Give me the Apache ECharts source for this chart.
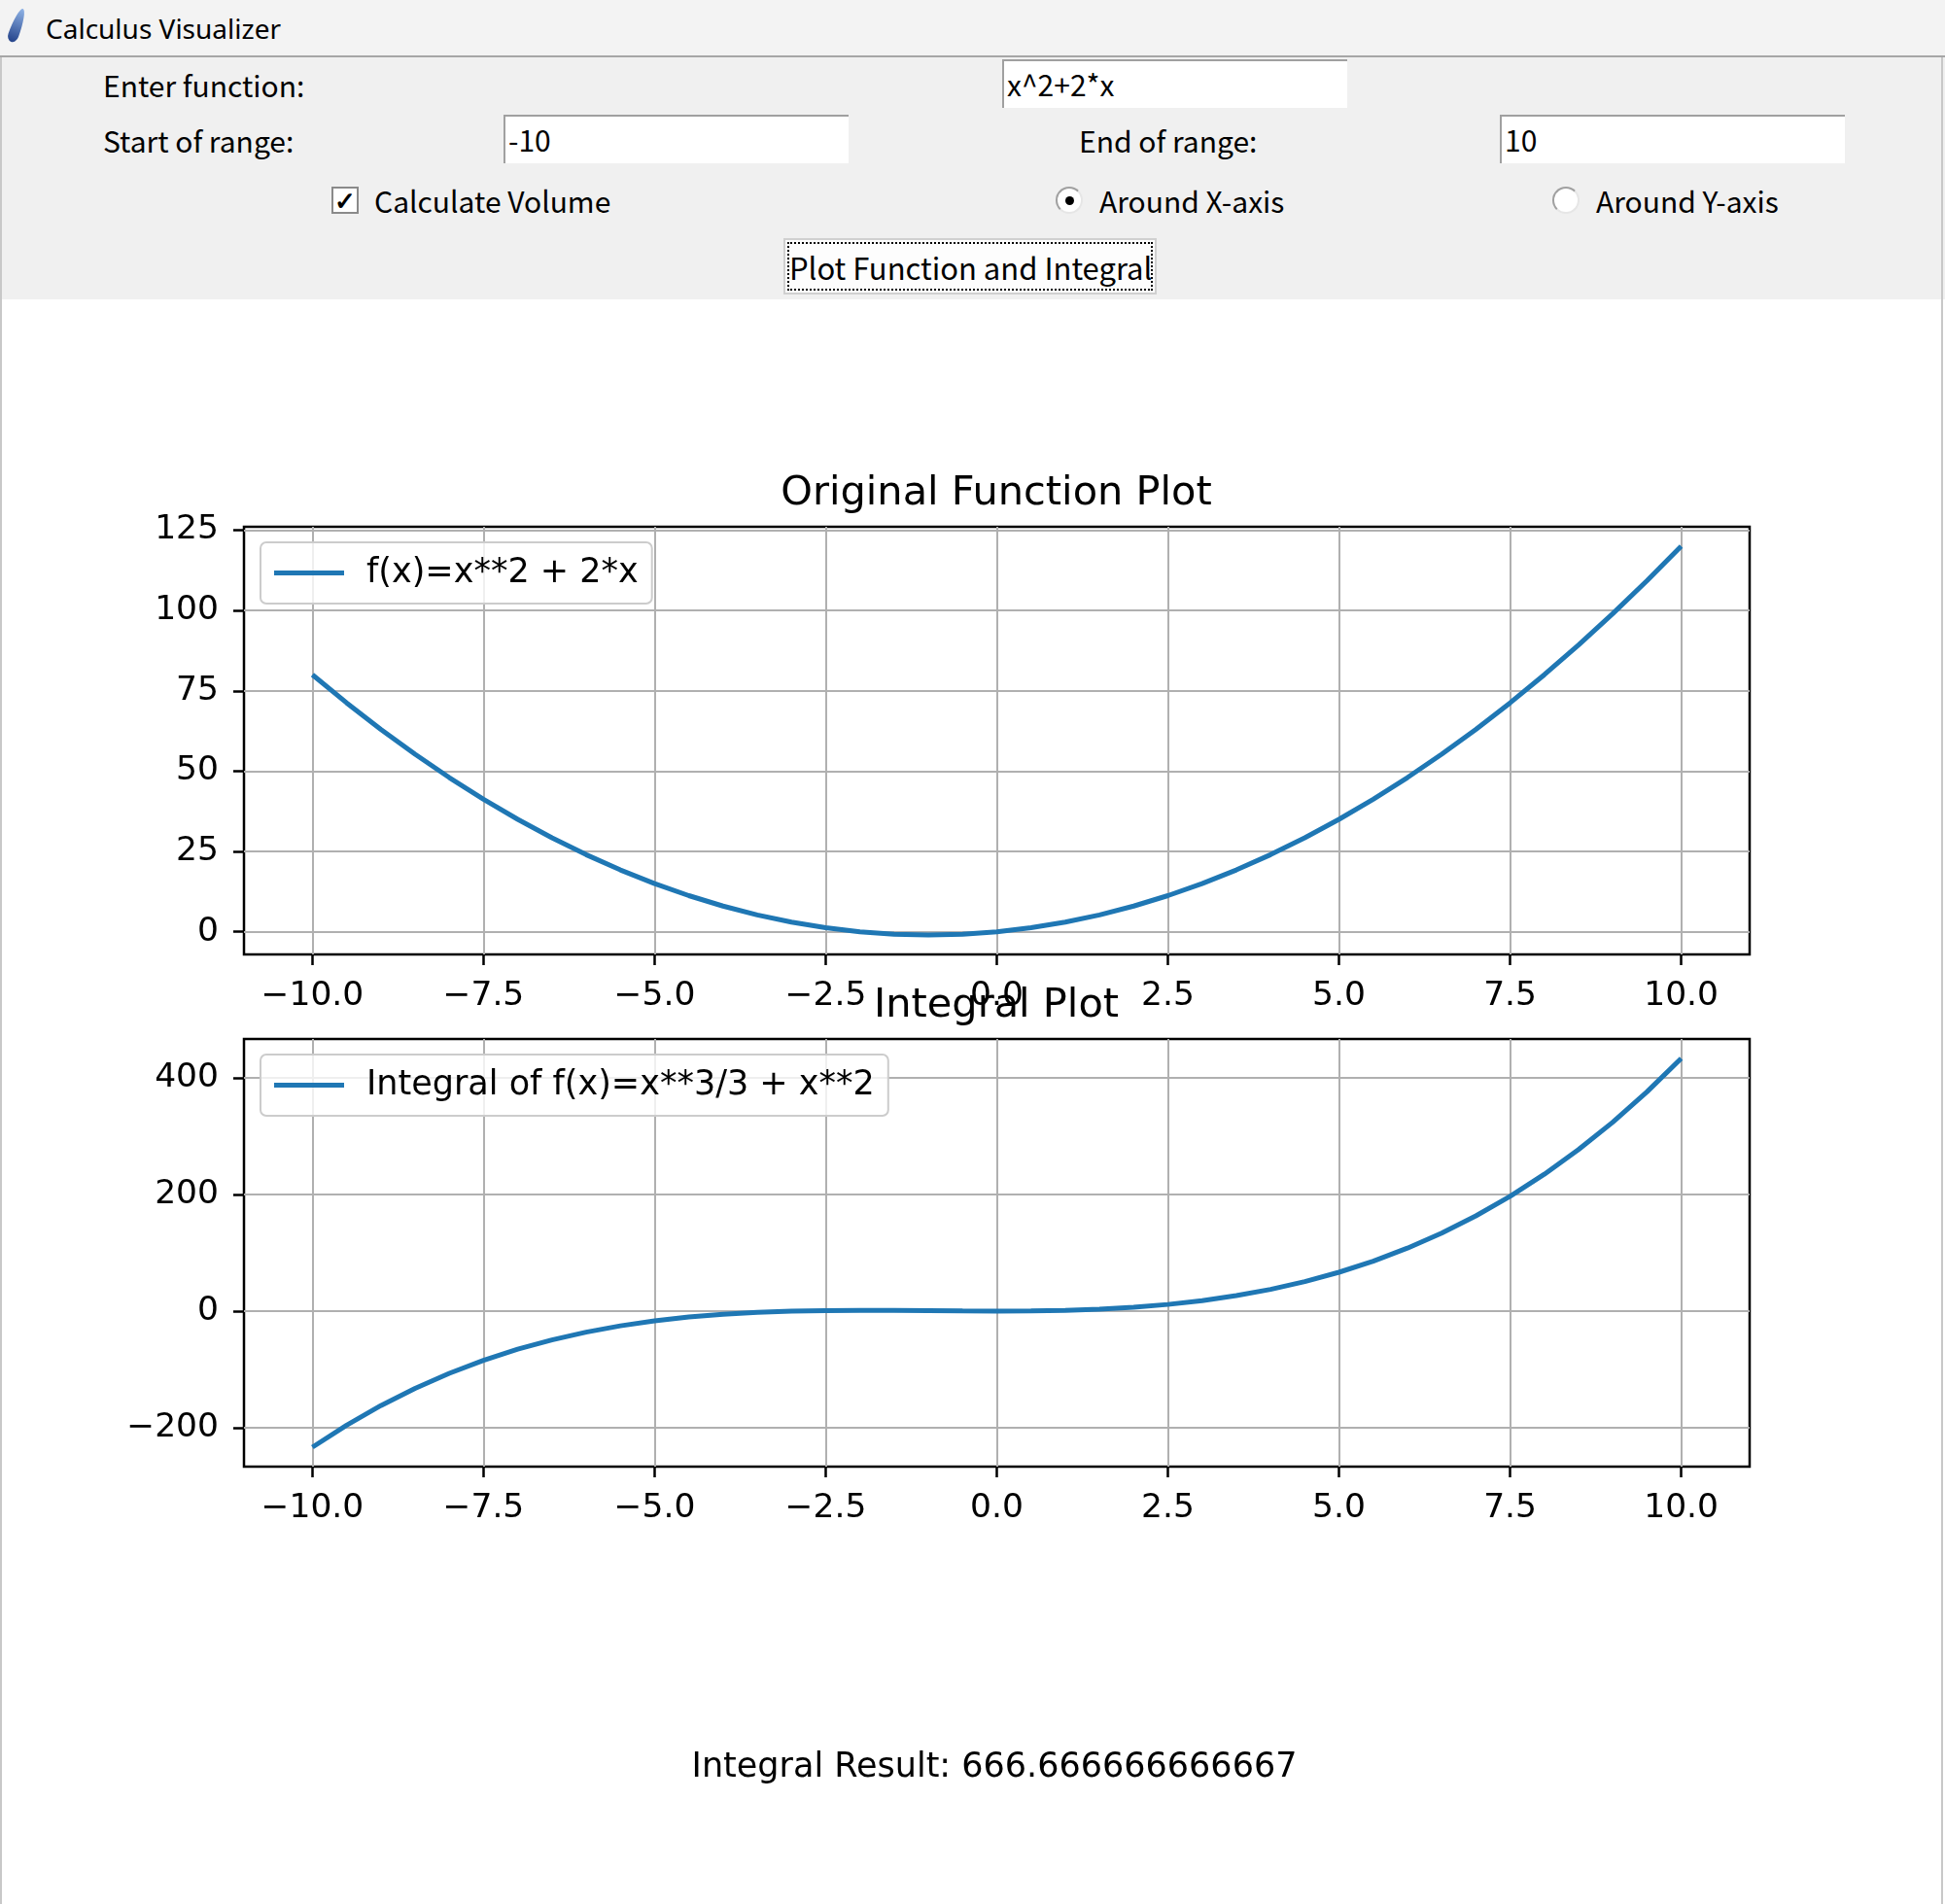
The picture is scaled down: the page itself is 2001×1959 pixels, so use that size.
<!doctype html>
<html lang="en">
<head>
    <meta charset="UTF-8">
    <title>Calculus Visualizer</title>
    <style>
        body {
            margin: 0;
            padding: 0;
            width: 2001px;
            height: 1959px;
            overflow: hidden;
            background: #ffffff;
            font-family: "Noto Sans", "Open Sans", sans-serif;
            position: relative;
        }
        .titleBar {
            position: absolute;
            left: 0; top: 0;
            width: 2001px; height: 57px;
            background: #f3f3f3;
            border-bottom: 2px solid #a6a6a6;
        }
        .titleBar .feather {
            position: absolute;
            left: 12px; top: 8px;
            width: 11px; height: 36px;
            background: linear-gradient(to bottom, #8fb3e6, #24438a);
            border-radius: 50% 50% 50% 50% / 80% 80% 20% 20%;
            transform: rotate(20deg);
        }
        .titleBar .caption {
            position: absolute;
            left: 47px; top: 10px;
            font-size: 28px;
            color: #000;
        }
        .form {
            position: absolute;
            left: 0; top: 59px;
            width: 2001px; height: 249px;
            background: #f0f0f0;
        }
        .lbl {
            position: absolute;
            font-family: "Noto Sans CJK SC", "Noto Sans", sans-serif;
            font-size: 30px;
            color: #000;
            line-height: 40px;
            white-space: nowrap;
        }
        .entry {
            position: absolute;
            width: 355px; height: 50px;
            background: #fff;
            border-top: 2px solid #a0a0a0;
            border-left: 2px solid #a0a0a0;
            box-sizing: border-box;
            font-family: "Noto Sans CJK SC", "Noto Sans", sans-serif;
            font-size: 30px;
            line-height: 46px;
            padding-left: 3px;
            color: #000;
        }
        .check {
            position: absolute;
            width: 28px; height: 28px;
            background: #fff;
            border: 2px solid #8a8a8a;
            box-sizing: border-box;
            font-size: 26px;
            line-height: 24px;
            text-align: center;
            font-weight: bold;
        }
        .radio {
            position: absolute;
            width: 28px; height: 28px;
            border-radius: 50%;
            background: #fff;
            border: 2px solid #a0a0a0;
            border-right-color: #e6e6e6;
            border-bottom-color: #e6e6e6;
            box-sizing: border-box;
        }
        .radio .dot {
            position: absolute;
            left: 8px; top: 8px;
            width: 9px; height: 9px;
            border-radius: 50%;
            background: #000;
        }
        .button {
            position: absolute;
            left: 806px; top: 186px;
            width: 384px; height: 58px;
            background: #fdfdfd;
            border: 2px solid #d0d0d0;
            box-sizing: border-box;
        }
        .button .focus {
            position: absolute;
            left: 2px; top: 2px; right: 2px; bottom: 2px;
            border: 2px dotted #000;
            font-family: "Noto Sans CJK SC", "Noto Sans", sans-serif;
            font-size: 31px;
            line-height: 48px;
            text-align: center;
            white-space: nowrap;
        }
        #main {
            position: absolute;
            left: 0; top: 308px;
            width: 2001px; height: 1651px;
        }
        .edgeL, .edgeR {
            position: absolute;
            top: 59px; width: 2px; height: 1900px;
            background: #c8c8c8;
            z-index: 5;
        }
        .edgeL { left: 0; }
        .edgeR { left: 1997px; }
    </style>
</head>
<body>
    <div class="titleBar">
        <div class="feather"></div>
        <div class="caption">Calculus Visualizer</div>
    </div>

    <div class="form">
        <div class="lbl" style="left:106px; top:8px;">Enter function:</div>
        <div class="entry" style="left:1031px; top:2px;">x^2+2*x</div>

        <div class="lbl" style="left:106px; top:65px;">Start of range:</div>
        <div class="entry" style="left:518px; top:59px;">-10</div>
        <div class="lbl" style="left:1110px; top:65px;">End of range:</div>
        <div class="entry" style="left:1543px; top:59px;">10</div>

        <div class="check" style="left:341px; top:133px;">✓</div>
        <div class="lbl" style="left:385px; top:127px;">Calculate Volume</div>
        <div class="radio" style="left:1086px; top:133px;"><div class="dot"></div></div>
        <div class="lbl" style="left:1131px; top:127px;">Around X-axis</div>
        <div class="radio" style="left:1597px; top:133px;"></div>
        <div class="lbl" style="left:1642px; top:127px;">Around Y-axis</div>

        <div class="button"><div class="focus">Plot Function and Integral</div></div>
    </div>

    <div id="main"></div>
    <div class="edgeL"></div>
    <div class="edgeR"></div>

    <script src="https://cdn.jsdelivr.net/npm/echarts@6/dist/echarts.min.js"></script>
    <script>
        // x samples used by both plots
        var xValues = [-10, -9.5, -9, -8.5, -8, -7.5, -7, -6.5, -6, -5.5, -5, -4.5, -4, -3.5, -3, -2.5, -2, -1.5, -1, -0.5,
            0, 0.5, 1, 1.5, 2, 2.5, 3, 3.5, 4, 4.5, 5, 5.5, 6, 6.5, 7, 7.5, 8, 8.5, 9, 9.5, 10];

        // f(x)
        var fValues = [80, 71.25, 63, 55.25, 48, 41.25, 35, 29.25, 24, 19.25, 15, 11.25, 8, 5.25, 3, 1.25, 0, -0.75, -1, -0.75,
            0, 1.25, 3, 5.25, 8, 11.25, 15, 19.25, 24, 29.25, 35, 41.25, 48, 55.25, 63, 71.25, 80, 89.25, 99, 109.25, 120];

        // integral
        var intValues = [-233.33, -195.54, -162, -132.46, -106.67, -84.38, -65.33, -49.29, -36, -25.21, -16.67, -10.13, -5.33, -2.04, 0, 1.04, 1.33, 1.13, 0.67, 0.21,
            0, 0.29, 1.33, 3.38, 6.67, 11.46, 18, 26.54, 37.33, 50.63, 66.67, 85.71, 108, 133.79, 163.33, 196.88, 234.67, 276.96, 324, 376.04, 433.33];

        var xTicks = [-10, -7.5, -5, -2.5, 0, 2.5, 5, 7.5, 10];
        var fTicks = [0, 25, 50, 75, 100, 125];
        var intTicks = [-200, 0, 200, 400];

        var fName = 'f(x)=x**2 + 2*x';
        var intName = 'Integral of f(x)=x**3/3 + x**2';
        var resultText = 'Integral Result: 666.666666666667';

        var font = 'DejaVu Sans';
        var blue = '#1f77b4';

        function minus(s) {
            return s.charAt(0) === '-' ? '\u2212' + s.slice(1) : s;
        }

        function pairs(xs, ys) {
            var out = [];
            for (var i = 0; i < xs.length; i++) out.push([xs[i], ys[i]]);
            return out;
        }

        function xAxis(idx) {
            return {
                type: 'value', gridIndex: idx, min: -11, max: 11,
                axisLine: { show: false, onZero: false },
                axisTick: { show: true, customValues: xTicks, length: 11, lineStyle: { color: '#000', width: 2.5 } },
                axisLabel: {
                    customValues: xTicks, margin: 26, color: '#000', fontFamily: font, fontSize: 34.5,
                    formatter: function (v) { return minus(v.toFixed(1)); }
                },
                splitLine: { show: true, lineStyle: { color: '#b0b0b0', width: 2 } }
            };
        }

        function yAxis(idx, min, max, ticks) {
            return {
                type: 'value', gridIndex: idx, min: min, max: max,
                axisLine: { show: false, onZero: false },
                axisTick: { show: true, customValues: ticks, length: 11, lineStyle: { color: '#000', width: 2.5 } },
                axisLabel: {
                    customValues: ticks, margin: 26, color: '#000', fontFamily: font, fontSize: 34.5,
                    padding: [12, 0, 0, 0],
                    formatter: function (v) { return minus(String(v)); }
                },
                splitLine: { show: true, lineStyle: { color: '#b0b0b0', width: 2 } }
            };
        }

        function legend(name, top) {
            return {
                data: [name], left: 268, top: top, orient: 'vertical',
                icon: 'rect', itemWidth: 72, itemHeight: 5,
                padding: [14, 14, 14, 14],
                backgroundColor: 'rgba(255,255,255,0.8)',
                borderColor: '#cccccc', borderWidth: 2, borderRadius: 6,
                textStyle: { fontFamily: font, fontSize: 35, color: '#000', padding: [0, 0, 0, 18] }
            };
        }

        var myChart = echarts.init(document.getElementById('main'));

        var option = {
            animation: false,
            backgroundColor: '#fff',
            title: [
                { text: 'Original Function Plot', left: 1025, top: 179, textAlign: 'center', padding: 0,
                  textStyle: { fontFamily: font, fontSize: 41.5, fontWeight: 'normal', color: '#000' } },
                { text: 'Integral Plot', left: 1025, top: 706, textAlign: 'center', padding: 0,
                  textStyle: { fontFamily: font, fontSize: 41.5, fontWeight: 'normal', color: '#000' } }
            ],
            legend: [legend(fName, 250), legend(intName, 777)],
            grid: [
                { left: 251, top: 234, width: 1549, height: 440, show: true, borderColor: '#000', borderWidth: 2.5, backgroundColor: 'transparent' },
                { left: 251, top: 761, width: 1549, height: 440, show: true, borderColor: '#000', borderWidth: 2.5, backgroundColor: 'transparent' }
            ],
            xAxis: [xAxis(0), xAxis(1)],
            yAxis: [yAxis(0, -7.05, 126.05, fTicks), yAxis(1, -266.67, 466.67, intTicks)],
            series: [
                { name: fName, type: 'line', xAxisIndex: 0, yAxisIndex: 0, data: pairs(xValues, fValues),
                  showSymbol: false, color: blue, lineStyle: { color: blue, width: 5 } },
                { name: intName, type: 'line', xAxisIndex: 1, yAxisIndex: 1, data: pairs(xValues, intValues),
                  showSymbol: false, color: blue, lineStyle: { color: blue, width: 5 } }
            ],
            graphic: [
                { type: 'text', x: 1023, y: 1493,
                  style: { text: resultText, textAlign: 'center', fontFamily: font, fontSize: 35, fill: '#000' } }
            ]
        };
        myChart.setOption(option);
    </script>
</body>
</html>
